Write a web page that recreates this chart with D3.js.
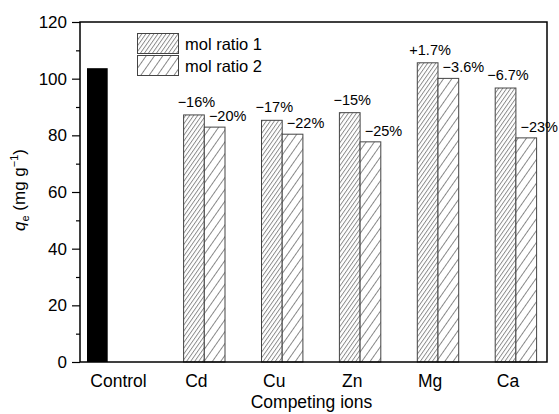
<!DOCTYPE html>
<html>
<head>
<meta charset="utf-8">
<script src="https://cdn.jsdelivr.net/npm/d3@7/dist/d3.min.js"></script>
<style>
body { margin:0; background:#fff; }
text { font-family: Arial, "Liberation Sans", sans-serif; fill:#000; }
</style>
</head>
<body>
<div id="chart"></div>
<script>
// data
var categories = ["Control", "Cd", "Cu", "Zn", "Mg", "Ca"]
var controlValue = 103.7
var ratio1 = [null, 87.2, 85.3, 88.0, 105.6, 96.7]
var ratio2 = [null, 82.9, 80.4, 77.7, 100.1, 79.1]
var ratio1Labels = [null, "\u221216%", "\u221217%", "\u221215%", "+1.7%", "\u22126.7%"]
var ratio2Labels = [null, "\u221220%", "\u221222%", "\u221225%", "\u22123.6%", "\u221223%"]
var yTicks = [0, 20, 40, 60, 80, 100, 120]
var seriesNames = ["mol ratio 1", "mol ratio 2"]

var W = 559, H = 414
var L = 80, R = 547, T = 22, B = 362
var bw = 20.7

var svg = d3.select("#chart").append("svg").attr("width", W).attr("height", H)

var defs = svg.append("defs")
function hatch(id, gap){
	var p = defs.append("pattern").attr("id", id).attr("patternUnits", "userSpaceOnUse")
		.attr("width", gap).attr("height", 10).attr("patternTransform", "rotate(35)")
	p.append("rect").attr("width", gap).attr("height", 10).attr("fill", "white")
	p.append("line").attr("x1", 0.5).attr("y1", 0).attr("x2", 0.5).attr("y2", 10)
		.attr("stroke", "#6a6a6a").attr("stroke-width", 0.8)
}
hatch("h1", 3.3)
hatch("h2", 6.8)

var x = d3.scalePoint().domain(categories).range([118.5, 508])
var y = d3.scaleLinear().domain([0, 120]).range([B, T])

// control bar
svg.append("rect").attr("x", x("Control") - 31.5).attr("y", y(controlValue))
	.attr("width", bw).attr("height", B - y(controlValue)).attr("fill", "black")

var groups = categories.map(function(c, i){ return {c: c, v1: ratio1[i], v2: ratio2[i], l1: ratio1Labels[i], l2: ratio2Labels[i]} })
	.filter(function(d){ return d.v1 != null })

svg.append("g").selectAll("rect").data(groups).enter().append("rect")
	.attr("x", function(d){ return x(d.c) - 12.8 }).attr("y", function(d){ return y(d.v1) })
	.attr("width", bw).attr("height", function(d){ return B - y(d.v1) })
	.attr("fill", "url(#h1)").attr("stroke", "#444").attr("stroke-width", 1)

svg.append("g").selectAll("rect").data(groups).enter().append("rect")
	.attr("x", function(d){ return x(d.c) - 12.8 + bw }).attr("y", function(d){ return y(d.v2) })
	.attr("width", bw).attr("height", function(d){ return B - y(d.v2) })
	.attr("fill", "url(#h2)").attr("stroke", "#444").attr("stroke-width", 1)

svg.append("g").selectAll("text").data(groups).enter().append("text")
	.attr("x", function(d){ return x(d.c) + 0 }).attr("y", function(d){ return y(d.v1) - 8 })
	.attr("text-anchor", "middle").attr("font-size", "14.5px").text(function(d){ return d.l1 })

svg.append("g").selectAll("text").data(groups).enter().append("text")
	.attr("x", function(d){ return x(d.c) + 12.5 }).attr("y", function(d){ return y(d.v2) - 6 })
	.attr("font-size", "14.5px").text(function(d){ return d.l2 })

// frame
svg.append("rect").attr("x", L).attr("y", T).attr("width", R - L).attr("height", B - T)
	.attr("fill", "none").attr("stroke", "black").attr("stroke-width", 1.5)

// y axis
var yAxis = svg.append("g").attr("transform", "translate(" + L + ",0)")
	.call(d3.axisLeft(y).tickValues(yTicks).tickSize(8).tickPadding(5))
yAxis.select(".domain").remove()
yAxis.selectAll("line").attr("stroke-width", 1.2)
yAxis.selectAll("text").attr("font-size", "17px").attr("font-family", "Arial, 'Liberation Sans', sans-serif")
svg.append("g").attr("transform", "translate(" + L + ",0)")
	.call(d3.axisLeft(y).tickValues(d3.range(10, 120, 20)).tickSize(4).tickFormat(""))
	.call(function(g){ g.select(".domain").remove(); g.selectAll("line").attr("stroke-width", 1.2) })

// x labels
svg.append("g").selectAll("text").data(categories).enter().append("text")
	.attr("x", function(d){ return x(d) }).attr("y", 387)
	.attr("text-anchor", "middle").attr("font-size", "17.5px").text(function(d){ return d })

svg.append("text").attr("x", (L + R) / 2 - 2).attr("y", 408).attr("text-anchor", "middle")
	.attr("font-size", "17.5px").text("Competing ions")

var yl = svg.append("text").attr("transform", "translate(25,190) rotate(-90)")
	.attr("text-anchor", "middle").attr("font-size", "17px")
yl.append("tspan").attr("font-style", "italic").text("q")
yl.append("tspan").attr("font-size", "11px").attr("dy", 4).text("e")
yl.append("tspan").attr("dy", -4).text(" (mg g")
yl.append("tspan").attr("font-size", "11px").attr("dy", -7).text("\u22121")
yl.append("tspan").attr("dy", 7).text(")")

// legend
var leg = svg.append("g").selectAll("g").data(seriesNames).enter().append("g")
	.attr("transform", function(d, i){ return "translate(137.5," + (33.5 + i * 22) + ")" })
leg.append("rect").attr("width", 41).attr("height", 20)
	.attr("fill", function(d, i){ return i == 0 ? "url(#h1)" : "url(#h2)" })
	.attr("stroke", "#444").attr("stroke-width", 1)
leg.append("text").attr("x", 47.5).attr("y", 16.5).attr("font-size", "16.5px").text(function(d){ return d })
</script>
</body>
</html>
